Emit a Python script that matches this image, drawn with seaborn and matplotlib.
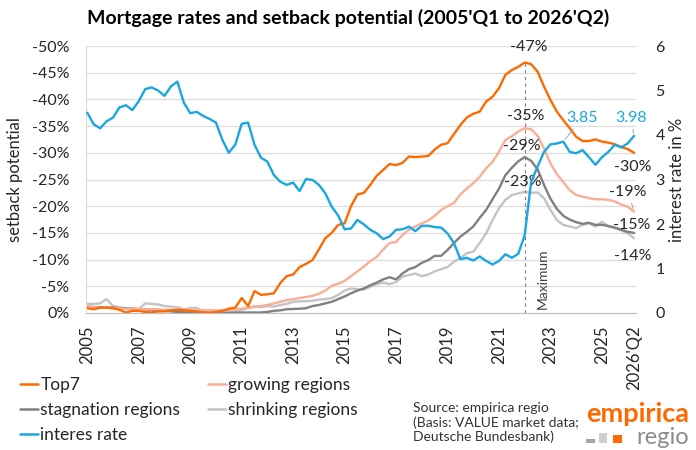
import matplotlib
matplotlib.use("Agg")
import matplotlib.pyplot as plt
import pandas as pd
import seaborn as sns
from matplotlib.lines import Line2D
from matplotlib.patches import Rectangle
from matplotlib.ticker import FuncFormatter, MultipleLocator

# quarterly series 2005Q1 .. 2026Q2 (86 quarters)
quarters = [f"{y}Q{q}" for y in range(2005, 2027) for q in range(1, 5)][:86]

tick_quarters = ["2005Q1", "2007Q1", "2009Q1", "2011Q1", "2013Q1", "2015Q1",
                 "2017Q1", "2019Q1", "2021Q1", "2023Q1", "2025Q1", "2026Q2"]
tick_labels = ["2005", "2007", "2009", "2011", "2013", "2015",
               "2017", "2019", "2021", "2023", "2025", "2026'Q2"]

# setback potential in % (negative = price drop from peak)
top7 = [-0.9, -0.7, -1.0, -1.0, -0.9, -0.6, -0.1, -0.4, -0.4, -0.2, -0.1, -0.3,
        -0.3, -0.5, -0.6, -0.5, -0.4, -0.3, -0.1, -0.0, -0.2, -0.4, -0.8, -1.0,
        -2.8, -1.3, -4.1, -3.4, -3.5, -3.7, -5.6, -6.9, -7.2, -8.6, -9.2, -9.9,
        -11.9, -14.0, -15.0, -16.5, -16.8, -20.0, -22.2, -22.5, -24.0, -25.7, -26.8, -27.9,
        -27.7, -28.1, -29.3, -29.2, -29.3, -29.4, -30.6, -31.5, -31.8, -33.5, -35.2, -36.6,
        -37.3, -37.7, -39.6, -40.5, -42.1, -44.6, -45.5, -46.1, -46.9, -46.6, -45.2, -42.4,
        -39.9, -37.7, -36.1, -34.6, -33.0, -32.2, -32.2, -32.5, -32.1, -31.9, -31.6, -31.1,
        -30.7, -30.0]
growing = [-1.2, -1.1, -1.0, -1.0, -0.9, -0.9, -0.8, -0.8, -0.8, -0.7, -0.7, -0.7,
           -0.6, -0.6, -0.6, -0.6, -0.5, -0.5, -0.5, -0.5, -0.5, -0.5, -0.6, -0.7,
           -0.8, -1.0, -1.1, -1.3, -1.5, -1.8, -2.1, -2.4, -2.6, -2.8, -3.0, -3.2,
           -3.6, -4.2, -5.1, -5.5, -6.0, -6.9, -7.8, -8.7, -9.7, -10.5, -11.9, -13.1,
           -13.3, -14.6, -15.6, -16.2, -16.8, -17.3, -18.2, -19.3, -20.0, -20.6, -22.2, -23.3,
           -24.3, -25.5, -27.1, -28.3, -30.2, -32.4, -33.1, -34.0, -34.6, -34.4, -33.2, -30.8,
           -28.0, -26.0, -24.5, -23.0, -22.1, -21.8, -21.5, -21.3, -21.3, -21.2, -20.9, -20.3,
           -19.9, -19.0]
stagnation = [-1.2, -1.1, -1.1, -1.0, -1.0, -0.9, -0.9, -0.8, -0.7, -0.7, -0.6, -0.5,
              -0.4, -0.3, -0.2, -0.15, -0.1, -0.1, -0.1, -0.05, -0.05, -0.05, -0.05, -0.05,
              -0.1, -0.1, -0.1, -0.1, -0.2, -0.4, -0.5, -0.7, -0.75, -0.8, -0.9, -1.3,
              -1.5, -1.8, -2.1, -2.6, -3.1, -3.7, -4.2, -4.6, -5.2, -5.7, -6.3, -6.7,
              -6.3, -7.4, -8.2, -8.6, -9.4, -9.9, -10.7, -10.7, -11.8, -13.1, -14.3, -15.2,
              -16.2, -17.8, -19.3, -21.3, -23.3, -25.8, -27.2, -28.4, -29.2, -28.5, -26.9, -24.0,
              -21.4, -19.5, -18.2, -17.5, -17.0, -16.7, -16.9, -16.5, -16.5, -16.3, -16.0, -15.6,
              -15.2, -15.0]
shrinking = [-1.7, -1.7, -1.8, -2.6, -1.3, -1.1, -0.9, -0.8, -0.7, -1.8, -1.7, -1.6,
             -1.3, -1.2, -1.1, -0.7, -0.9, -1.0, -0.3, -0.1, -0.0, -0.0, -0.1, -0.3,
             -0.6, -0.9, -1.3, -1.1, -1.3, -1.2, -1.5, -1.7, -2.1, -2.2, -2.2, -2.3,
             -2.5, -2.6, -2.8, -3.4, -4.2, -4.6, -4.4, -4.4, -4.9, -5.4, -5.7, -5.4,
             -5.8, -6.8, -7.1, -7.4, -6.9, -7.2, -7.8, -8.2, -8.6, -9.6, -10.3, -11.2,
             -11.5, -13.1, -14.9, -17.4, -19.6, -21.2, -22.1, -22.4, -22.7, -22.5, -22.6, -21.5,
             -19.3, -17.4, -16.5, -16.2, -15.9, -16.5, -16.8, -16.2, -17.1, -16.2, -15.9, -15.5,
             -14.9, -14.0]
# mortgage interest rate in %
interest = [4.50, 4.24, 4.15, 4.31, 4.39, 4.62, 4.67, 4.56, 4.76, 5.03, 5.07, 5.00,
            4.88, 5.09, 5.20, 4.73, 4.49, 4.52, 4.43, 4.36, 4.28, 3.89, 3.60, 3.78,
            4.25, 4.28, 3.78, 3.49, 3.40, 3.10, 2.95, 2.88, 2.93, 2.74, 3.01, 2.99,
            2.88, 2.69, 2.39, 2.19, 1.88, 1.90, 2.09, 1.99, 1.87, 1.79, 1.66, 1.72,
            1.87, 1.88, 1.94, 1.84, 1.96, 1.96, 1.93, 1.92, 1.79, 1.57, 1.21, 1.24,
            1.18, 1.27, 1.17, 1.09, 1.17, 1.32, 1.24, 1.33, 1.75, 2.95, 3.29, 3.62,
            3.79, 3.81, 3.85, 3.62, 3.59, 3.66, 3.50, 3.33, 3.50, 3.62, 3.78, 3.72,
            3.81, 3.98]

series_names = ["shrinking regions", "stagnation regions", "growing regions", "Top7"]
series_values = [shrinking, stagnation, growing, top7]
colors = {"Top7": "#FF6A00", "growing regions": "#F9AE96",
          "stagnation regions": "#808080", "shrinking regions": "#C4C4C4",
          "interes rate": "#1AA7E1"}

t = list(range(len(quarters)))
setback_df = pd.concat(
    [pd.DataFrame({"t": t, "value": v, "series": n}) for n, v in zip(series_names, series_values)],
    ignore_index=True)
rate_df = pd.DataFrame({"t": t, "rate": interest})

sns.set_style("white")
plt.rcParams["font.family"] = ["Lato", "DejaVu Sans"]
text_col = "#262626"

fig = plt.figure(figsize=(6.96, 4.5), dpi=100)
ax = fig.add_axes([86 / 696, 1 - 313 / 450, 550 / 696, 267 / 450])

sns.lineplot(data=setback_df, x="t", y="value", hue="series", hue_order=series_names,
             palette=colors, linewidth=1.7, errorbar=None, legend=False, ax=ax)
ax.set_ylim(0, -50)
ax.set_xlim(-0.2, 85.3)
ax.yaxis.set_major_locator(MultipleLocator(5))
ax.yaxis.set_major_formatter(FuncFormatter(lambda v, _: f"{int(round(v))}%"))
ax.grid(axis="y", color="#DDDDDD", linewidth=0.9)
ax.set_axisbelow(True)
ax.tick_params(axis="y", length=0, pad=12, labelsize=11.5, labelcolor=text_col)
ax.set_xticks([quarters.index(q) for q in tick_quarters])
ax.set_xticklabels(tick_labels, rotation=90)
ax.tick_params(axis="x", length=0, pad=9, labelsize=12, labelcolor=text_col)
ax.set_xlabel("")
ax.set_ylabel("setback potential", fontsize=12, color=text_col, labelpad=6)
for side in ["top", "right"]:
    ax.spines[side].set_visible(False)
ax.spines["left"].set_color("#D9D9D9")
ax.spines["bottom"].set_color("#BFBFBF")

ax2 = ax.twinx()
sns.lineplot(data=rate_df, x="t", y="rate", color=colors["interes rate"],
             linewidth=1.7, errorbar=None, ax=ax2)
ax2.set_ylim(0, 6)
ax2.yaxis.set_major_locator(MultipleLocator(1))
ax2.tick_params(axis="y", length=0, pad=14, labelsize=11.5, labelcolor=text_col)
ax2.set_ylabel("interest rate in %", fontsize=12, color=text_col, labelpad=3)
for side in ["top", "right", "left", "bottom"]:
    ax2.spines[side].set_visible(False)

# peak marker
peak = quarters.index("2022Q1")
ax.vlines(peak, 0, top7[peak], colors="#808080", linestyles=(0, (3, 3)), linewidth=0.8)
ax.annotate("Maximum", xy=(peak, 0), xytext=(18, 4), textcoords="offset pixels",
            rotation=90, ha="center", va="bottom", fontsize=10, color="#404040")

lab = dict(textcoords="offset pixels", ha="center", va="center", fontsize=11.5, color=text_col)
lead = dict(arrowstyle="-", color="#A6A6A6", lw=0.7, shrinkA=1, shrinkB=2)
ax.annotate("-47%", xy=(peak, top7[peak]), xytext=(4, 16), **lab)
ax.annotate("-35%", xy=(peak, growing[peak]), xytext=(1, 12), **lab)
ax.annotate("-29%", xy=(peak, stagnation[peak]), xytext=(-3, 11), **lab)
ax.annotate("-23%", xy=(peak, shrinking[peak]), xytext=(-2, 10), **lab)

last = len(quarters) - 1
ax.annotate("-30%", xy=(last, top7[last]), xytext=(-1, -14), **lab)
ax.annotate("-19%", xy=(last, growing[last]), xytext=(-6, 20), arrowprops=lead, **lab)
ax.annotate("-15%", xy=(last, stagnation[last]), xytext=(-2, 8), **lab)
ax.annotate("-14%", xy=(last, shrinking[last]), xytext=(-1, -18), **lab)

blab = dict(lab, color=colors["interes rate"])
i385 = interest.index(3.85)
ax2.annotate(f"{interest[i385]:.2f}", xy=(i385, interest[i385]), xytext=(19, 24),
             arrowprops=lead, **blab)
ax2.annotate(f"{interest[last]:.2f}", xy=(last, interest[last]), xytext=(-3, 18),
             arrowprops=lead, **blab)

fig.text(0.5, 1 - 18 / 450, "Mortgage rates and setback potential (2005'Q1 to 2026'Q2)",
         ha="center", va="center", fontsize=14, fontweight="bold", color="black")

# legend
legend_order = ["Top7", "stagnation regions", "interes rate", "growing regions", "shrinking regions"]
handles = [Line2D([0], [0], color=colors[n], linewidth=1.8) for n in legend_order]
fig.legend(handles, legend_order, ncol=2, loc="upper left", bbox_to_anchor=(20 / 696, 1 - 377 / 450),
           frameon=False, fontsize=12.5, handlelength=1.05, handletextpad=0.12,
           columnspacing=1.6, labelspacing=0.52, borderpad=0, borderaxespad=0,
           labelcolor=text_col)

fig.text(413 / 696, 1 - 402 / 450,
         "Source: empirica regio\n(Basis: VALUE market data;\nDeutsche Bundesbank)",
         ha="left", va="top", fontsize=10, color="#333333", linespacing=1.2)

# logo
fig.text(689 / 696, 1 - 414 / 450, "empirica", ha="right", va="center",
         fontsize=19.5, fontweight="bold", color="#FF6A00")
fig.text(689 / 696, 1 - 437 / 450, "regio", ha="right", va="center",
         fontsize=17, color="#8C8C8C")
for x0, y0, w, h, c in [(586, 439, 9, 4, "#A6A6A6"), (599, 433, 8, 10, "#CFCFCF"),
                        (613, 435, 9, 8, "#FF6A00")]:
    fig.patches.append(Rectangle((x0 / 696, 1 - (y0 + h) / 450), w / 696, h / 450,
                                 transform=fig.transFigure, color=c, linewidth=0))

fig.savefig("out.png", dpi=100)
